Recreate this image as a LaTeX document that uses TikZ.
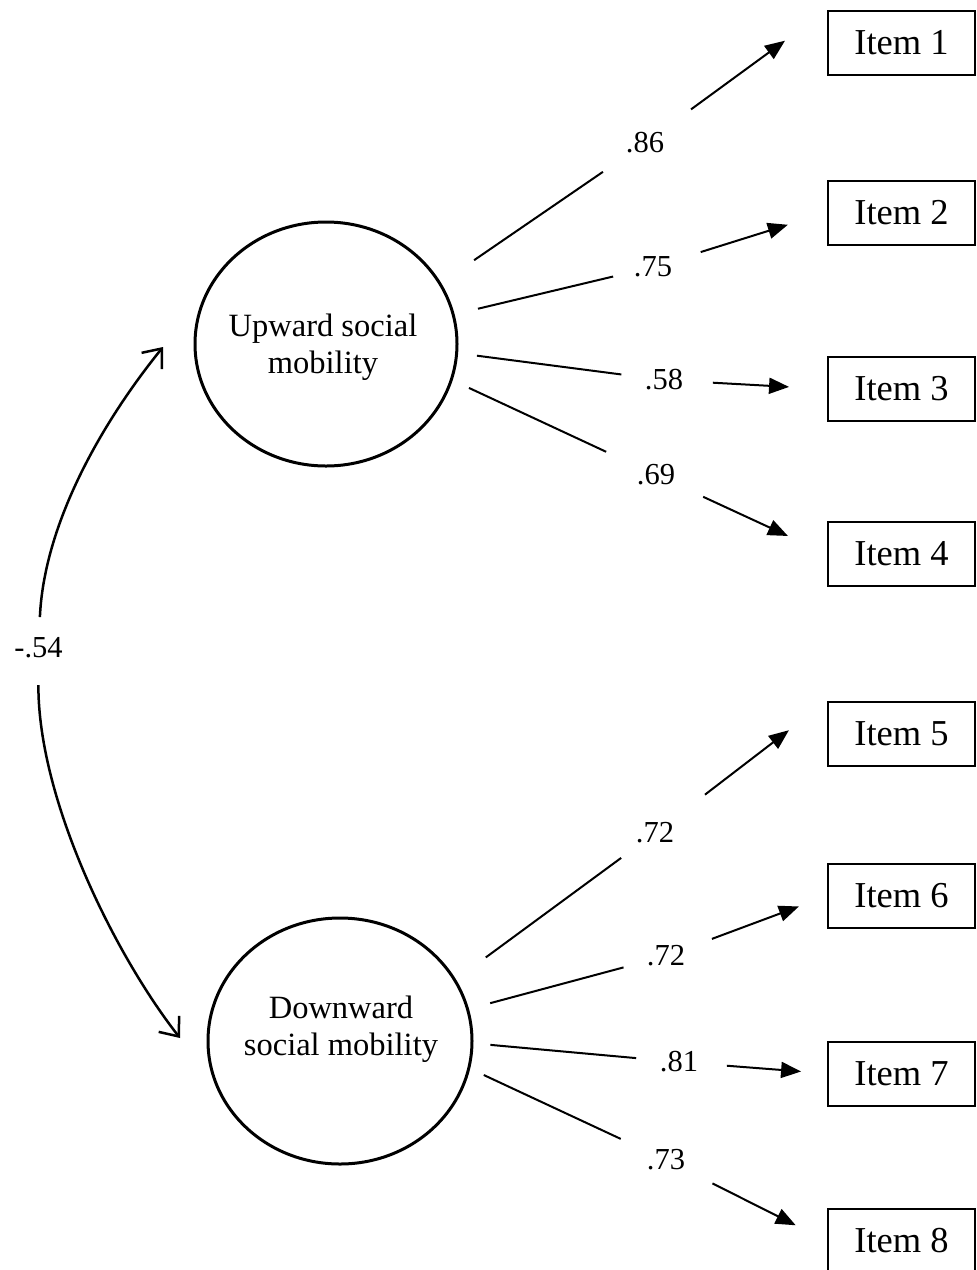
\documentclass[tikz,border=0pt]{standalone}
\usepackage{fontspec}
\setmainfont{Liberation Serif}
\usetikzlibrary{arrows.meta,shapes.geometric}
\begin{document}
\begin{tikzpicture}[x=1pt,y=-1pt,
  latent/.style={draw,ellipse,line width=3pt,inner sep=0pt},
  itembox/.style={draw,rectangle,line width=2pt,minimum width=147pt,minimum height=64pt,inner sep=0pt,font=\fontsize{36.5}{40}\selectfont},
  coef/.style={inner sep=0pt,font=\fontsize{30.5}{34}\selectfont},
  ltext/.style={align=center,font=\fontsize{32.5}{37}\selectfont,inner sep=0pt},
  segline/.style={line width=2pt},
  loadarrow/.style={line width=2pt,-{Triangle[length=20pt,width=16pt]}},
  corrarrow/.style={line width=2.5pt,-{Straight Barb[length=16pt,width=26pt]}}
]
\useasboundingbox (0,0) rectangle (977,1270);
\fill[white] (0,0) rectangle (977,1270);
\clip (0,0) rectangle (977,1270);

% latent variables
\node[latent,minimum width=262pt,minimum height=244pt] (U) at (326,344) {};
\node[ltext] (Ut) at (323,347) {Upward social\\mobility};
\node[latent,minimum width=264pt,minimum height=246pt] (D) at (340,1041) {};
\node[ltext] (Dt) at (341,1029) {Downward\\social mobility};

% items
\node[itembox] (I1) at (901.5,43) {Item 1};
\node[itembox] (I2) at (901.5,212.5) {Item 2};
\node[itembox] (I3) at (901.5,389) {Item 3};
\node[itembox] (I4) at (901.5,554) {Item 4};
\node[itembox] (I5) at (901.5,734) {Item 5};
\node[itembox] (I6) at (901.5,896) {Item 6};
\node[itembox] (I7) at (901.5,1073.5) {Item 7};
\node[itembox] (I8) at (901.5,1241) {Item 8};

% loadings
\node[coef] (L1) at (645,143) {.86};
\node[coef] (L2) at (653,267) {.75};
\node[coef] (L3) at (664,380) {.58};
\node[coef] (L4) at (656,475) {.69};
\node[coef] (L5) at (655,833) {.72};
\node[coef] (L6) at (666,956) {.72};
\node[coef] (L7) at (679,1062) {.81};
\node[coef] (L8) at (666,1160) {.73};

% segments from latent to coefficient
\draw[segline,shorten <=40pt,shorten >=51pt] (U.28) -- (L1.center);
\draw[segline,shorten <=24pt,shorten >=41pt] (U.13) -- (L2.center);
\draw[segline,shorten <=19pt,shorten >=43pt] (U.356) -- (L3.center);
\draw[segline,shorten <=18pt,shorten >=55pt] (U.344) -- (L4.center);
\draw[segline,shorten <=37pt,shorten >=42pt] (D.28) -- (L5.center);
\draw[segline,shorten <=22pt,shorten >=44pt] (D.14) -- (L6.center);
\draw[segline,shorten <=17pt,shorten >=43pt] (D.359) -- (L7.center);
\draw[segline,shorten <=15pt,shorten >=50pt] (D.348) -- (L8.center);

% arrows from coefficient to item
\draw[loadarrow,shorten <=57pt,shorten >=52pt] (L1.center) -- (I1.north west);
\draw[loadarrow,shorten <=50pt,shorten >=41pt] (L2.center) -- (I2.west);
\draw[loadarrow,shorten <=49pt,shorten >=38pt] (L3.center) -- (I3.west);
\draw[loadarrow,shorten <=52pt,shorten >=43pt] (L4.center) -- (I4.west);
\draw[loadarrow,shorten <=63pt,shorten >=48pt] (L5.center) -- (I5.north west);
\draw[loadarrow,shorten <=49pt,shorten >=30pt] (L6.center) -- (I6.west);
\draw[loadarrow,shorten <=48pt,shorten >=26pt] (L7.center) -- (I7.west);
\draw[loadarrow,shorten <=52pt,shorten >=35pt] (L8.center) -- (I8.west);

% correlation
\node[coef] (M) at (38.5,648) {-.54};
\coordinate (uTip) at (163,347);
\coordinate (dTip) at (180,1038);
\draw[corrarrow,shorten <=31pt] (M.center) .. controls (44,525) and (100,425) .. (uTip);
\draw[corrarrow,shorten <=37pt] (M.center) .. controls (38,800) and (115,955) .. (dTip);
\end{tikzpicture}
\end{document}
